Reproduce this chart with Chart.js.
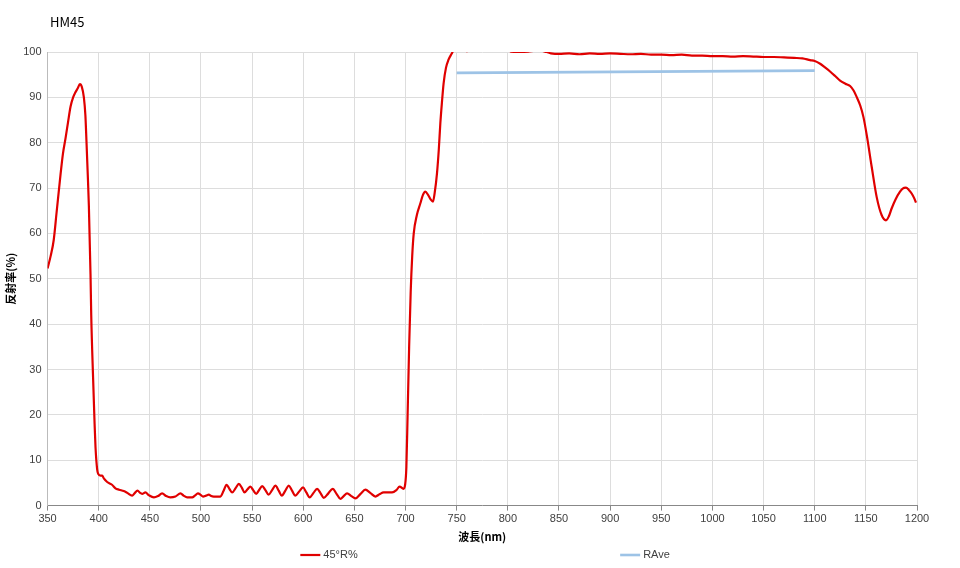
<!DOCTYPE html>
<html>
<head>
<meta charset="utf-8">
<script src="https://cdn.jsdelivr.net/npm/chart.js@4.4.1/dist/chart.umd.min.js"></script>
<style>
  html, body { margin: 0; padding: 0; background: #fff; }
  canvas { display: block; }
</style>
</head>
<body>
<canvas id="grafico" width="960" height="568"></canvas>
<script>
// Dados
const tituloGrafico = 'HM45';
const nomeSerieR = '45°R%';
const nomeSerieMedia = 'RAve';

// comprimento de onda (nm) e refletância (%)
const comprimentos = [
    350, 353, 356, 359, 362.7, 365, 367.6, 370, 372.5, 375, 377, 379.5, 381.6, 383.5, 385.5, 387, 388, 389.3, 390.4, 392,
    392.7, 394.6, 396, 396.9, 398.5, 399.5, 401.8, 403.4, 405, 408.3, 413, 416.4, 420, 424.5, 428, 432.7, 435, 438, 440.5, 442.5,
    445.7, 449, 454, 458, 462, 466, 470, 475, 480, 483, 486.5, 491.4, 494, 497, 500, 502, 505, 507.6, 510, 512.5,
    519, 522, 525, 528, 530.5, 534, 537, 540, 542.5, 545.5, 548.3, 551, 554, 557, 559.8, 563, 566, 569.5, 572.8, 576,
    579, 582.5, 585.8, 589, 592.3, 596, 599.8, 603, 606.3, 610, 613.5, 617, 620, 624.5, 628.8, 632.5, 636.3, 639.5, 642.8, 647,
    651, 656, 660.7, 665.5, 670.5, 674.5, 678.6, 686.8, 691, 694.2, 698, 699.5, 700.8, 702, 703.5, 705, 706.5, 708, 711, 714.4,
    717, 719.3, 722, 724.5, 726.8, 728.5, 730.7, 732.5, 734, 735.6, 737.2, 739.5, 742, 745, 747, 750, 755, 760, 765, 770,
    780, 790, 800, 803, 810, 820, 826, 829, 833, 838, 842, 846, 850, 860, 870, 880, 890, 900, 910, 920,
    930, 940, 950, 960, 970, 980, 990, 1000, 1010, 1020, 1030, 1040, 1050, 1060, 1070, 1080, 1088, 1095.5, 1100, 1105.3,
    1110, 1115, 1120, 1124.8, 1130, 1134.6, 1138, 1141, 1144.5, 1147.6, 1151, 1155.7, 1160.6, 1165.5, 1169.7, 1172.5,
    1175.2, 1179, 1183.4, 1186, 1189.2, 1192, 1194.8, 1197, 1199
];
const refletancia = [
    52.3, 55, 58.5, 65, 73, 77.5, 81, 84.5, 88, 90, 91, 92, 92.9, 92.3, 90, 86, 80.6, 73, 66, 51,
    42, 27.6, 18, 12.8, 8, 7, 6.6, 6.6, 6.0, 5.2, 4.6, 3.8, 3.5, 3.2, 2.8, 2.2, 2.7, 3.3, 2.8, 2.6,
    2.9, 2.3, 1.8, 2.1, 2.7, 2.1, 1.8, 2.0, 2.7, 2.2, 1.8, 1.8, 2.2, 2.7, 2.3, 2.0, 2.2, 2.4, 2.1, 2.0,
    2.0, 3.2, 4.6, 3.6, 2.9, 3.9, 4.8, 3.9, 2.9, 3.6, 4.2, 3.4, 2.6, 3.5, 4.3, 3.4, 2.4, 3.4, 4.4, 3.3,
    2.2, 3.3, 4.4, 3.3, 2.2, 3.1, 4.0, 2.9, 1.8, 2.8, 3.7, 2.7, 1.7, 2.7, 3.7, 2.6, 1.5, 2.1, 2.7, 2.1,
    1.6, 2.6, 3.5, 2.8, 2.0, 2.5, 2.9, 2.9, 3.4, 4.2, 3.7, 4.5, 8.5, 20, 35, 47, 55, 60, 64, 66.6,
    68.5, 69.2, 68.5, 67.5, 67, 69, 73.2, 78.5, 84.3, 89, 93.1, 96.5, 98.3, 99.6, 100.4, 100.8, 100.6, 100.2, 100.8, 101,
    101.2, 101, 100.6, 100.1, 100.0, 100.1, 100.3, 100.6, 100.3, 100, 99.7, 99.6, 99.6, 99.7, 99.5, 99.7, 99.6, 99.7, 99.6, 99.5,
    99.6, 99.4, 99.4, 99.3, 99.4, 99.2, 99.2, 99.1, 99.1, 99.0, 99.1, 99.0, 98.9, 98.9, 98.8, 98.7, 98.6, 98.2, 98.0, 97.4,
    96.6, 95.7, 94.7, 93.7, 93.0, 92.5, 91.5, 90.1, 88.2, 85.7, 81.5, 74.7, 68, 64, 62.9, 63.8,
    65.5, 67.5, 69.2, 69.9, 70.1, 69.6, 68.8, 67.9, 66.8
];

// média (RAve) de 750 a 1100 nm
const comprimentosMedia = [750, 1100];
const valoresMedia = [95.4, 95.9];

// eixos
const eixoXMin = 350, eixoXMax = 1200, passoX = 50;
const eixoYMin = 0, eixoYMax = 100, passoY = 10;
const tituloEixoX = '波長(nm)';
const tituloEixoY = '反射率(%)';

// posição horizontal (centro) de cada item da legenda, como no original
const legendaCentros = [329, 645];

// Título no canto superior esquerdo
const pluginTitulo = {
    id: 'tituloHM',
    afterDraw(chart) {
        const c = chart.ctx;
        c.save();
        c.font = '13px "Noto Sans CJK JP", "DejaVu Sans"';
        c.fillStyle = '#000';
        c.textBaseline = 'middle';
        c.fillText(tituloGrafico, 50, 22);
        c.restore();
    }
};

// Legenda desenhada à mão (itens bem afastados, estilo Excel)
const pluginLegenda = {
    id: 'legendaExcel',
    afterDraw(chart) {
        const c = chart.ctx;
        const y = chart.height - 13;
        c.save();
        c.font = '11px "Liberation Sans", Arial, sans-serif';
        c.textBaseline = 'middle';
        chart.data.datasets.forEach((ds, i) => {
            const largTexto = c.measureText(ds.label).width;
            const larg = 20 + 3 + largTexto;
            const x0 = legendaCentros[i] - larg / 2;
            c.strokeStyle = ds.borderColor;
            c.lineWidth = ds.borderWidth;
            c.beginPath();
            c.moveTo(x0, y);
            c.lineTo(x0 + 20, y);
            c.stroke();
            c.fillStyle = '#404040';
            c.fillText(ds.label, x0 + 23, y);
        });
        c.restore();
    }
};

const fonteEixo = { family: '"Liberation Sans", Arial, sans-serif', size: 11 };
const fonteTitulo = { family: '"Noto Sans CJK JP", sans-serif', size: 11, weight: 'bold' };

const ctx = document.getElementById('grafico');
new Chart(ctx, {
    type: 'line',
    data: {
        datasets: [
            {
                label: nomeSerieR,
                data: comprimentos.map((x, i) => ({ x: x, y: refletancia[i] })),
                borderColor: '#e00000',
                backgroundColor: '#e00000',
                borderWidth: 2.2,
                pointRadius: 0,
                cubicInterpolationMode: 'monotone',
                fill: false
            },
            {
                label: nomeSerieMedia,
                data: comprimentosMedia.map((x, i) => ({ x: x, y: valoresMedia[i] })),
                borderColor: '#9dc3e6',
                backgroundColor: '#9dc3e6',
                borderWidth: 2.6,
                pointRadius: 0,
                fill: false
            }
        ]
    },
    options: {
        responsive: false,
        animation: false,
        layout: {
            padding: { left: 2, right: 43, top: 52, bottom: 21 }
        },
        scales: {
            x: {
                type: 'linear',
                min: eixoXMin,
                max: eixoXMax,
                ticks: {
                    stepSize: passoX,
                    color: '#404040',
                    font: fonteEixo,
                    padding: 2,
                    maxRotation: 0,
                    callback: v => String(v)
                },
                grid: {
                    color: '#dddddd',
                    tickColor: '#888888',
                    tickLength: 5
                },
                border: { color: '#888888' },
                title: {
                    display: true,
                    text: tituloEixoX,
                    color: '#000',
                    font: fonteTitulo,
                    padding: { top: 2, bottom: 4 }
                }
            },
            y: {
                min: eixoYMin,
                max: eixoYMax,
                ticks: {
                    stepSize: passoY,
                    color: '#404040',
                    font: fonteEixo,
                    padding: 6
                },
                grid: {
                    color: '#dddddd',
                    drawTicks: false
                },
                border: { color: '#bbbbbb' },
                title: {
                    display: true,
                    text: tituloEixoY,
                    color: '#000',
                    font: fonteTitulo,
                    padding: { top: 2, bottom: 0 }
                }
            }
        },
        plugins: {
            legend: { display: false },
            tooltip: { enabled: false }
        }
    },
    plugins: [pluginTitulo, pluginLegenda]
});
</script>
</body>
</html>
